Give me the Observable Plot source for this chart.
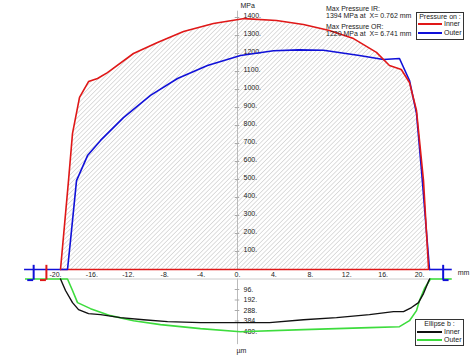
<!DOCTYPE html>
<html>
<head>
<meta charset="utf-8">
<script src="https://cdn.jsdelivr.net/npm/d3@7"></script>
<script src="https://cdn.jsdelivr.net/npm/@observablehq/plot@0.6"></script>
<style>
  html, body { margin: 0; padding: 0; background: #fff; }
  #wrap { position: relative; width: 473px; height: 356px; overflow: hidden; font-family: "Liberation Sans", Arial, sans-serif; }
  #wrap svg { position: absolute; left: 0; top: 0; }
  .t { position: absolute; font-size: 7px; line-height: 7px; color: #222; white-space: pre; }
  .box { position: absolute; border: 1px solid #333; background: #fff; box-sizing: border-box; }
  .ln { position: absolute; height: 2px; }
</style>
</head>
<body>
<div id="wrap"></div>
<script>
// ---- data ----
// Pressure on inner race (MPa) vs X (mm)
const innerPX = [-19.45,-18.57,-18.13,-17.36,-16.37,-15.38,-14.29,-11.43,-8.79,-5.93,-2.64,0.76,4.29,7.25,10.1,12.75,15.27,16.7,18.0,18.9,19.67,20.44,21.0];
const innerP  = [0,494,756,956,1044,1061,1094,1200,1261,1322,1367,1394,1383,1361,1328,1283,1206,1133,1111,1039,883,494,0];
// Pressure on outer race (MPa)
const outerPX = [-18.68,-18.35,-17.69,-16.48,-15.05,-12.53,-9.56,-6.59,-3.30,0.33,3.96,6.74,9.45,13.4,16.04,17.8,18.9,19.67,20.22,21.1];
const outerP  = [0,161,494,633,717,844,967,1061,1133,1189,1215,1220,1218,1189,1167,1172,1050,867,550,0];
// Ellipse b (µm)
const innerBX = [-19.45,-18.9,-18.13,-17.47,-16.37,-15.05,-12.86,-10.33,-7.69,-4.07,0.33,3.52,7.25,10.88,14.5,17.14,18.24,19.12,19.89,20.44,21.1];
const innerB  = [0,105,216,280,317,326,353,372,390,399,399,399,372,353,326,298,298,261,216,133,0];
const outerBX = [-18.68,-18.13,-17.58,-16.15,-13.96,-11.43,-8.46,-4.07,0.33,7.25,14.5,17.8,18.9,19.67,20.0,20.55,21.2];
const outerB  = [0,105,216,271,335,381,417,454,482,463,445,436,381,289,197,87,0];
// tick labels
const xTicks = [-20,-16,-12,-8,-4,0,4,8,12,16,20];
const pTicks = [100,200,300,400,500,600,700,800,900,1000,1100,1200,1300,1400];
const bTicks = [96,192,288,384,480];
// contact ends (mm): outer extension segments & markers
const outerExt = [[-23.4,-18.68],[21.1,23.6]];
const greenExt = [[-23.3,-18.68],[21.2,23.6]];
const markerX = [-22.4,-21.0,22.6];
const markerDir = [-1,-1,1];
const markerColor = ["#1010d8","#e01818","#1010d8"];

const RED = "#e01818", BLUE = "#1010d8", GREEN = "#3ddc3d", BLACK = "#111";
const innerPData = innerPX.map((x,i)=>({x, y: innerP[i]}));
const outerPData = outerPX.map((x,i)=>({x, y: outerP[i]}));
const innerBData = innerBX.map((x,i)=>({x, y: innerB[i]}));
const outerBData = outerBX.map((x,i)=>({x, y: outerB[i]}));

const xScale = {domain: [-20, 20], range: [55, 419], axis: null};
const font = {fontSize: 7, fill: "#222"};

const topPlot = Plot.plot({
  width: 473, height: 356, margin: 0,
  style: {background: "transparent", fontFamily: "Liberation Sans, Arial, sans-serif", overflow: "visible"},
  x: xScale,
  y: {domain: [0, 1400], range: [269, 17], axis: null},
  marks: [
    Plot.areaY(innerPData, {x: "x", y: "y", fill: "url(#hatch)", curve: "linear"}),
    Plot.ruleX([0], {y1: 0, y2: 1435, stroke: "#bbb", strokeWidth: 1}),
    Plot.ruleY(pTicks, {x1: -0.25, x2: 0.25, stroke: "#aaa"}),
    Plot.text(pTicks, {x: 0, y: d => d, text: d => d + ".", dx: 6, dy: -2, textAnchor: "start", ...font}),
    Plot.text(xTicks, {x: d => d, y: 0, text: d => d + ".", dy: 5, ...font}),
    Plot.text(["MPa"], {x: 0, y: 1467, dx: 3, textAnchor: "start", ...font}),
    Plot.text(["mm"], {x: 24.2, y: 0, dy: 3, textAnchor: "start", ...font}),
    Plot.ruleY([0], {x1: innerPX[0], x2: innerPX[innerPX.length-1], stroke: RED, strokeWidth: 1.6}),
    Plot.ruleY(outerExt, {x1: d => d[0], x2: d => d[1], y: 0, stroke: BLUE, strokeWidth: 1.6}),
    Plot.line(outerPData, {x: "x", y: "y", stroke: BLUE, strokeWidth: 1.6}),
    Plot.line(innerPData, {x: "x", y: "y", stroke: RED, strokeWidth: 1.6})
  ]
});

const defs = d3.select(topPlot).insert("defs", ":first-child");
const pat = defs.append("pattern").attr("id", "hatch").attr("patternUnits", "userSpaceOnUse")
  .attr("width", 3.2).attr("height", 3.2).attr("patternTransform", "rotate(45)");
pat.append("line").attr("x1", 0).attr("y1", 0).attr("x2", 0).attr("y2", 3.2)
  .attr("stroke", "#bdbdbd").attr("stroke-width", 1);

const bottomPlot = Plot.plot({
  width: 473, height: 356, margin: 0,
  style: {background: "transparent", fontFamily: "Liberation Sans, Arial, sans-serif", overflow: "visible"},
  x: xScale,
  y: {domain: [0, 480], range: [278.5, 331], axis: null},
  marks: [
    Plot.ruleX([0], {y1: 0, y2: 600, stroke: "#bbb", strokeWidth: 1}),
    Plot.ruleY([0], {x1: -20.6, x2: 21, stroke: "#ccc"}),
    Plot.ruleY(bTicks, {x1: -0.25, x2: 0.25, stroke: "#aaa"}),
    Plot.text(bTicks, {x: 0, y: d => d, text: d => d + ".", dx: 6, textAnchor: "start", ...font}),
    Plot.text(["µm"], {x: 0, y: 656, dx: -1, textAnchor: "start", ...font}),
    Plot.ruleY(greenExt, {x1: d => d[0], x2: d => d[1], y: 0, stroke: GREEN, strokeWidth: 1.6}),
    Plot.line(outerBData, {x: "x", y: "y", stroke: GREEN, strokeWidth: 1.6}),
    Plot.line(innerBData, {x: "x", y: "y", stroke: BLACK, strokeWidth: 1.4}),
    Plot.ruleX(markerX, {x: d => d, y1: -125, y2: 10, stroke: (d,i) => markerColor[i], strokeWidth: 2}),
    Plot.ruleY(markerX, {x1: d => d, x2: (d,i) => d + markerDir[i]*0.65, y: 10, stroke: (d,i) => markerColor[i], strokeWidth: 2})
  ]
});

const wrap = document.getElementById("wrap");
wrap.appendChild(topPlot);
wrap.appendChild(bottomPlot);

// annotations and legends
function addText(txt, left, topPx, extra) {
  const d = document.createElement("div");
  d.className = "t"; d.textContent = txt;
  d.style.left = left + "px"; d.style.top = topPx + "px";
  if (extra) Object.assign(d.style, extra);
  wrap.appendChild(d); return d;
}
function addBox(left, topPx, w, h) {
  const d = document.createElement("div");
  d.className = "box";
  Object.assign(d.style, {left: left + "px", top: topPx + "px", width: w + "px", height: h + "px"});
  wrap.appendChild(d);
}
function addLine(left, topPx, w, color) {
  const d = document.createElement("div");
  d.className = "ln";
  Object.assign(d.style, {left: left + "px", top: topPx + "px", width: w + "px", background: color});
  wrap.appendChild(d);
}
addText("Max Pressure IR:", 326, 5);
addText("1394 MPa at  X= 0.762 mm", 326, 12);
addText("Max Pressure OR:", 326, 23);
addText("1220 MPa at  X= 6.741 mm", 326, 30);

addBox(416, 12, 48, 28);
addText("Pressure on :", 416, 13, {width: "48px", textAlign: "center"});
addLine(418, 23, 24, RED);
addText("Inner", 444, 20);
addLine(418, 32, 24, BLUE);
addText("Outer", 444, 29);

addBox(415, 319, 49, 27);
addText("Ellipse b :", 415, 320, {width: "49px", textAlign: "center"});
addLine(417, 331, 25, BLACK);
addText("Inner", 444, 328);
addLine(417, 339, 25, GREEN);
addText("Outer", 444, 336);
</script>
</body>
</html>
